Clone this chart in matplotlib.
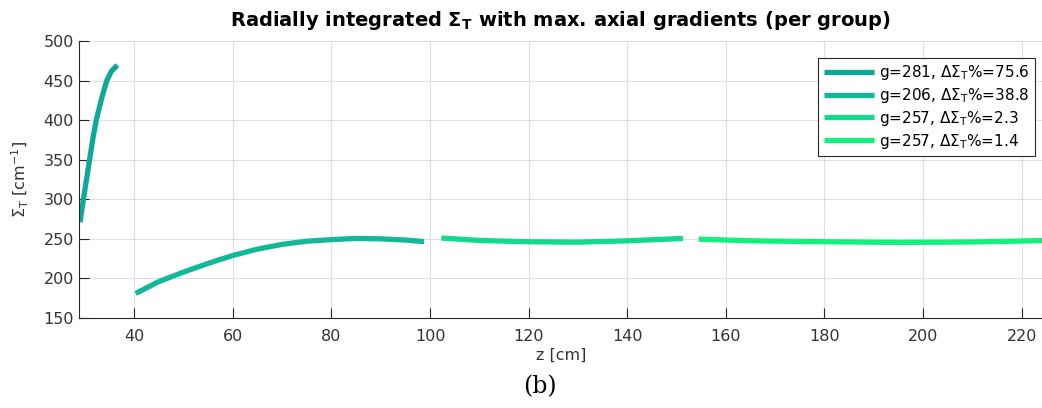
import matplotlib.pyplot as plt

# segment data: z [cm] and Sigma_T [cm^-1]
z_g281 = [29.0, 29.7, 30.95, 31.6, 32.3, 33.5, 34.45, 35.4, 36.6]
s_g281 = [271, 300, 350, 376, 400, 430, 450, 462, 469.5]

z_g206 = [40.3, 45, 50, 55, 60, 65, 70, 75, 80, 85, 90, 95, 98.8]
s_g206 = [181, 196, 208, 219, 229, 237, 243, 247, 249, 250.5, 250, 248.5, 246.5]

z_g257a = [102.3, 110, 120, 130, 140, 151.3]
s_g257a = [251, 248, 246.3, 245.8, 247.5, 250.5]

z_g257b = [154.5, 165, 180, 195, 210, 224.5]
s_g257b = [249.6, 247.5, 246.3, 245.5, 246, 247.8]

labels = [r'g=281, $\Delta\Sigma_\mathrm{T}$%=75.6',
          r'g=206, $\Delta\Sigma_\mathrm{T}$%=38.8',
          r'g=257, $\Delta\Sigma_\mathrm{T}$%=2.3',
          r'g=257, $\Delta\Sigma_\mathrm{T}$%=1.4']
colors = ['#10a898', '#12b899', '#10da8c', '#12f080']

fig = plt.figure(figsize=(10.42, 4.08), dpi=100)
ax = fig.add_axes([0.0758, 0.2206, 0.925, 0.679])

segments = [(z_g281, s_g281), (z_g206, s_g206), (z_g257a, s_g257a), (z_g257b, s_g257b)]
for (z, s), c, lab in zip(segments, colors, labels):
    ax.plot(z, s, color=c, linewidth=3.8, label=lab, solid_capstyle='butt')

ax.set_xlim(28.8, 224.3)
ax.set_ylim(150, 500)
ax.set_xticks(range(40, 221, 20))
ax.set_yticks(range(150, 501, 50))
ax.grid(True, color='#dedede', linewidth=0.8)
ax.set_axisbelow(True)
ax.tick_params(direction='in', length=7, width=0.8, colors='#262626', labelsize=11.5,
               labelcolor='#333333')
ax.tick_params(axis='x', pad=8)
for side in ['top', 'right']:
    ax.spines[side].set_visible(False)
for side in ['left', 'bottom']:
    ax.spines[side].set_color('#262626')
    ax.spines[side].set_linewidth(0.8)

ax.set_xlabel('z [cm]', fontsize=11.5, color='#333333', labelpad=3)
ax.set_ylabel(r'$\Sigma_\mathrm{T}$ [cm$^{-1}$]', fontsize=11.5, color='#333333', labelpad=9)
ax.set_title(r'Radially integrated $\mathbf{\Sigma_T}$ with max. axial gradients (per group)',
             fontsize=14, fontweight='bold', pad=11)

leg = ax.legend(loc='upper right', bbox_to_anchor=(0.9995, 0.967), fontsize=11,
                handlelength=3.3, handletextpad=0.3, borderpad=0.35, labelspacing=0.25,
                fancybox=False, edgecolor='#262626', framealpha=1)
leg.get_frame().set_linewidth(0.8)

fig.text(0.518, 1 - 387 / 408, '(b)', fontsize=17, family='DejaVu Serif',
         ha='center', va='center')

plt.savefig('out.png', dpi=100)
